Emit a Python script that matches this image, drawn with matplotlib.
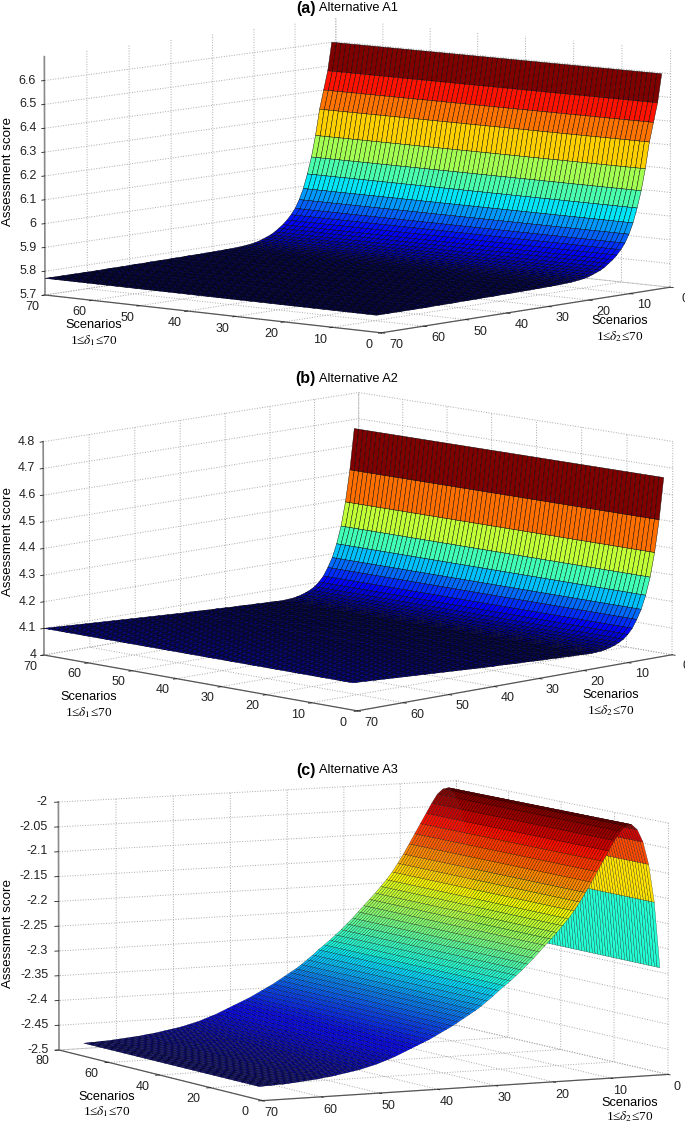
import numpy as np
import matplotlib
matplotlib.use('Agg')
from matplotlib import pyplot as plt
from mpl_toolkits.mplot3d import proj3d

plt.rcParams['font.family'] = ['Liberation Sans', 'DejaVu Sans']
plt.rcParams['mathtext.fontset'] = 'stix'

FIG_W, FIG_H = 685, 1126

# scenario index along both floor axes
delta = list(range(1, 71))

# assessment score against delta2, read row by row off the colour bands
score_a = [6.60, 6.48, 6.40, 6.32, 6.21, 6.12, 6.05, 5.99, 5.945, 5.91,
           5.885, 5.865, 5.848, 5.835, 5.822, 5.812, 5.805, 5.798, 5.792, 5.788,
           5.785, 5.783, 5.781, 5.780, 5.779, 5.778, 5.778, 5.777, 5.777, 5.776,
           5.776, 5.776, 5.775, 5.775, 5.775, 5.775, 5.774, 5.774, 5.774, 5.774,
           5.773, 5.773, 5.773, 5.773, 5.773, 5.772, 5.772, 5.772, 5.772, 5.772,
           5.771, 5.771, 5.771, 5.771, 5.771, 5.771, 5.770, 5.770, 5.770, 5.770,
           5.770, 5.770, 5.770, 5.770, 5.770, 5.770, 5.770, 5.770, 5.770, 5.770]
score_b = [4.665, 4.51, 4.39, 4.30, 4.235, 4.185, 4.15, 4.12, 4.10, 4.085,
           4.075, 4.068, 4.062, 4.058, 4.055, 4.054, 4.053, 4.053, 4.054, 4.055,
           4.055, 4.056, 4.057, 4.057, 4.058, 4.059, 4.060, 4.060, 4.061, 4.062,
           4.063, 4.064, 4.064, 4.065, 4.066, 4.067, 4.068, 4.069, 4.069, 4.070,
           4.071, 4.072, 4.073, 4.074, 4.075, 4.076, 4.077, 4.078, 4.079, 4.080,
           4.081, 4.082, 4.083, 4.084, 4.085, 4.086, 4.087, 4.088, 4.089, 4.090,
           4.091, 4.092, 4.093, 4.094, 4.095, 4.096, 4.097, 4.098, 4.099, 4.100]
score_c = [-2.288, -2.157, -2.081, -2.036, -2.011, -2.000, -2.002, -2.012, -2.03, -2.05,
           -2.07, -2.09, -2.11, -2.13, -2.148, -2.165, -2.18, -2.193, -2.206, -2.218,
           -2.23, -2.242, -2.254, -2.265, -2.276, -2.286, -2.296, -2.305, -2.314, -2.324,
           -2.333, -2.342, -2.35, -2.357, -2.364, -2.371, -2.378, -2.384, -2.39, -2.396,
           -2.402, -2.407, -2.412, -2.417, -2.422, -2.427, -2.432, -2.436, -2.44, -2.444,
           -2.447, -2.45, -2.453, -2.455, -2.457, -2.459, -2.461, -2.463, -2.464, -2.466,
           -2.467, -2.468, -2.469, -2.470, -2.471, -2.472, -2.472, -2.473, -2.473, -2.474]

ticks_a_z = [5.7, 5.8, 5.9, 6, 6.1, 6.2, 6.3, 6.4, 6.5, 6.6]
ticks_b_z = [4, 4.1, 4.2, 4.3, 4.4, 4.5, 4.6, 4.7, 4.8]
ticks_c_z = [-2.5, -2.45, -2.4, -2.35, -2.3, -2.25, -2.2, -2.15, -2.1, -2.05, -2]
labels_a_z = ['5.7', '5.8', '5.9', '6', '6.1', '6.2', '6.3', '6.4', '6.5', '6.6']
labels_b_z = ['4', '4.1', '4.2', '4.3', '4.4', '4.5', '4.6', '4.7', '4.8']
labels_c_z = ['-2.5', '-2.45', '-2.4', '-2.35', '-2.3', '-2.25', '-2.2', '-2.15', '-2.1', '-2.05', '-2']
ticks_70 = [0, 10, 20, 30, 40, 50, 60, 70]
ticks_80 = [0, 20, 40, 60, 80]

fig = plt.figure(figsize=(FIG_W / 100, FIG_H / 100), dpi=100)


def panel(score, xmax, xticks, zlim, zticks, zlabels, elev, azim, aspect, left_px, right_px, cmax, zpad, lw):
    ax = fig.add_axes([0, 0, 1, 1], projection='3d')
    ax.patch.set_visible(False)
    ax.view_init(elev=elev, azim=azim)
    ax.set_proj_type('persp', focal_length=4.0)
    ax.set_box_aspect(aspect)
    ax.set_xlim(0, xmax, view_margin=0)
    ax.set_ylim(0, 70, view_margin=0)
    ax.set_zlim(zlim[0], zlim[1], view_margin=0)

    X, Y = np.meshgrid(delta, delta)
    Z = np.tile(np.array(score)[:, None], (1, len(delta)))
    colors = plt.cm.jet(np.clip((Z - min(score)) / (cmax - min(score)), 0, 1))
    ax.plot_surface(X, Y, Z, facecolors=colors, rstride=1, cstride=1, shade=False,
                    edgecolor='black', linewidth=lw, antialiased=True)

    ax.set_xticks(xticks)
    ax.set_yticks(ticks_70)
    ax.set_zticks(zticks)
    ax.set_zticklabels(zlabels)
    ax.tick_params(labelsize=9, colors='#222222', pad=2.5)
    ax.tick_params(axis='z', pad=zpad)
    for t in ax.get_xticklabels() + ax.get_yticklabels():
        t.set_va('center')
    for t in ax.get_zticklabels():
        t.set_va('center')
        t.set_ha('right')
    for axis in (ax.xaxis, ax.yaxis, ax.zaxis):
        axis.set_pane_color((1, 1, 1, 0))
        axis.pane.set_edgecolor('none')
        axis.line.set_color('#555555')
        axis.line.set_linewidth(0.9)
        axis._axinfo['grid'].update(color='#a8a8a8', linewidth=0.7, linestyle=':')
        axis._axinfo['tick'].update(inward_factor=0.12, outward_factor=0.0, linewidth={True: 0.6, False: 0.4})
    ax.zaxis.line.set_color('#8a8a8a')
    ax.zaxis.line.set_linewidth(1.2)
    ax.zaxis.set_ticks_position('upper')

    # place the square axes so the two floor corners land where they are in the picture
    M = ax.get_proj()
    uL, vL, _ = proj3d.proj_transform(xmax, 70, zlim[0], M)
    uR, vR, _ = proj3d.proj_transform(0, 0, zlim[0], M)
    S = (right_px[0] - left_px[0]) / (uR - uL)
    x0, x1 = ax.viewLim.intervalx
    y0, y1 = ax.viewLim.intervaly
    W = S * (x1 - x0)
    l = left_px[0] - S * (uL - x0)
    b = (FIG_H - left_px[1]) - S * (vL - y0)
    ax.set_position([l / FIG_W, b / FIG_H, W / FIG_W, W / FIG_H])
    return ax


def px_text(x, y, s, **kw):
    fig.text(x / FIG_W, 1 - y / FIG_H, s, **kw)


def labels(y_title, tag, name, ylabel_y, lab1, lab2):
    px_text(316, y_title, tag, ha='right', va='center', fontsize=11.5, fontweight='bold')
    px_text(319, y_title, name, ha='left', va='center', fontsize=9.2)
    px_text(8, ylabel_y, 'Assessment score', rotation=90, ha='center', va='center', fontsize=9.6)
    for (x, y, y2), n in ((lab1, '1'), (lab2, '2')):
        px_text(x, y, 'Scenarios', ha='center', va='center', fontsize=9.2)
        px_text(x, y2, r'1≤$\delta_{%s}$≤70' % n, ha='center', va='center', fontsize=9.5,
                family='Liberation Serif')


panel(score_a, 70, ticks_70, (5.7, 6.7), ticks_a_z, labels_a_z, 7.0, 130.2, (440, 450, 240), (45, 295), (670, 287), 6.57, -4.8, 0.3)
labels(8, '(a)', 'Alternative A1', 171, (94, 325, 341), (620, 321, 337))

panel(score_b, 70, ticks_70, (4, 4.8), ticks_b_z, labels_b_z, 9.6, 135, (443, 445, 216), (44, 655), (672, 654), 4.63, -5, 0.3)
labels(379, '(b)', 'Alternative A2', 542, (89, 697, 713), (611, 695, 711))

panel(score_c, 80, ticks_80, (-2.5, -2), ticks_c_z, labels_c_z, 6.6, 152.8, (456, 453, 252), (59, 1050), (668, 1075), -2.0, -3.6, 0.18)
labels(770, '(c)', 'Alternative A3', 934, (107, 1097, 1112), (630, 1103, 1117))

fig.savefig('out.png', dpi=100)
